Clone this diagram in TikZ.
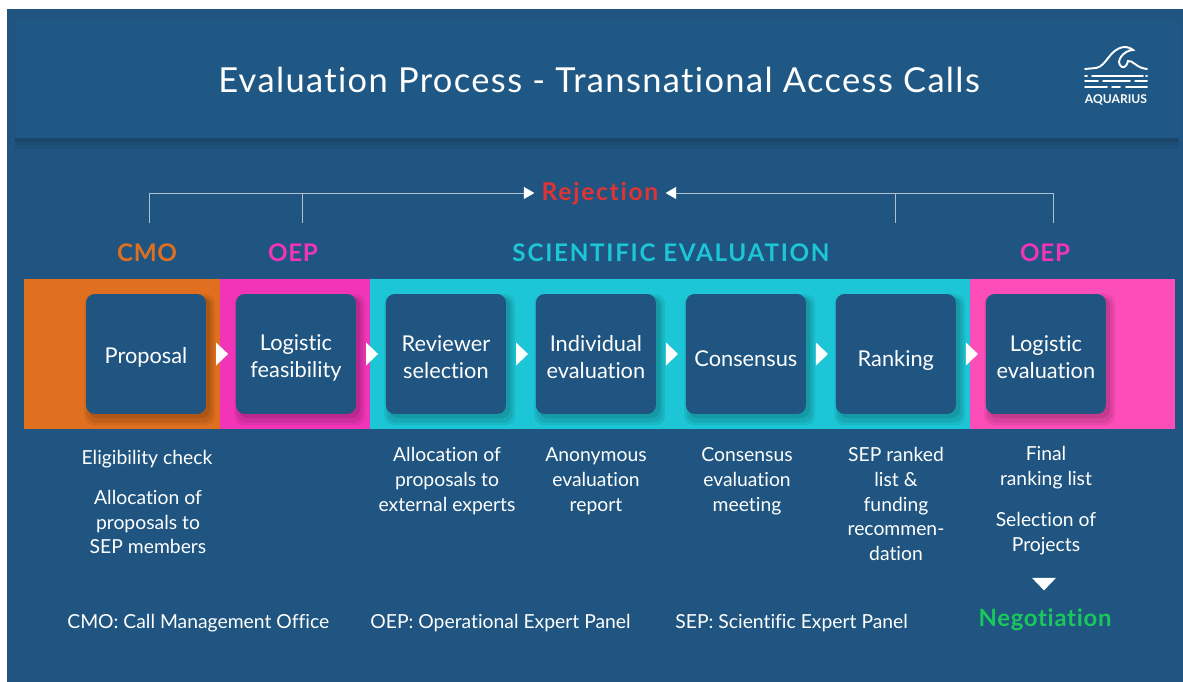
\documentclass[tikz,border=0pt]{standalone}
\usepackage{fontspec}
\usepackage{tikz}
\usetikzlibrary{positioning, shadows, shapes.geometric, calc}
\setmainfont{Lato}[Ligatures=NoCommon]
\newfontfamily\spacedfont[LetterSpace=4,Ligatures=NoCommon]{Lato}
\newfontfamily\headfont[LetterSpace=3,Ligatures=NoCommon]{Lato}
\newfontfamily\widefont[LetterSpace=7,Ligatures=NoCommon]{Lato}
\newcommand{\boxtext}[2]{\raisebox{-#1pt}[\height][\depth]{\begin{tabular}{@{}c@{}}#2\end{tabular}}}
\definecolor{slideblue}{HTML}{1F5580}
\definecolor{panelblue}{HTML}{1F5884}
\definecolor{cmoorange}{HTML}{E0701F}
\definecolor{oeppink}{HTML}{F235B8}
\definecolor{oeplight}{HTML}{FD4DB8}
\definecolor{scicyan}{HTML}{1CC6D6}
\definecolor{rejectred}{HTML}{E03434}
\definecolor{negogreen}{HTML}{18C85C}
\definecolor{linegrey}{HTML}{AFC1CF}
\tikzset{
    softshadow/.style={
        drop shadow={shadow xshift=2pt, shadow yshift=-3pt, fill=black, opacity=.07, shadow scale=1.09},
        drop shadow={shadow xshift=2pt, shadow yshift=-3pt, fill=black, opacity=.08, shadow scale=1.05},
        drop shadow={shadow xshift=2pt, shadow yshift=-2pt, fill=black, opacity=.09, shadow scale=1.01}
    },
    panelshadow/.style={
        drop shadow={shadow xshift=0pt, shadow yshift=-6pt, fill=black, opacity=.04},
        drop shadow={shadow xshift=0pt, shadow yshift=-4pt, fill=black, opacity=.05},
        drop shadow={shadow xshift=0pt, shadow yshift=-2pt, fill=black, opacity=.07}
    },
    stepbox/.style={draw=none, fill=slideblue, rounded corners=5pt, minimum size=2.4cm, inner sep=0pt, outer sep=0pt,
        text=white, align=center, font=\fontsize{12.4}{15.3}\selectfont, softshadow},
    band/.style={draw=none, inner sep=0pt, outer sep=0pt, minimum height=3cm, anchor=north west},
    note/.style={text=white, align=center, inner sep=0pt, font=\fontsize{11}{14.2}\selectfont},
    heading/.style={inner sep=0pt},
    tip/.style={isosceles triangle, isosceles triangle stretches, fill=white, draw=none,
        inner sep=0pt, outer sep=0pt, minimum height=0.24cm, minimum width=0.46cm},
    bracket/.style={draw=linegrey, line width=0.55pt},
    wave/.style={draw=white, line width=1.1pt, line cap=round},
    x=0.02cm, y=-0.02cm
}
\begin{document}
\begin{tikzpicture}
    \useasboundingbox (0,0) rectangle (1183,682);
    \fill[white] (0,0) rectangle (1183,682);
    \fill[slideblue] (7,9) rectangle (1183,682);
    \node[fill=panelblue, draw=none, minimum width=23.28cm, minimum height=2.36cm, inner sep=0pt, anchor=north west,
        panelshadow] (panel) at (15,20) {};

    \node[text=white, inner sep=0pt] (title) at (599,80) {\fontsize{19.6}{24}\spacedfont Evaluation Process - Transnational Access Calls};

    \draw[wave] (1085,69) -- (1096,68) .. controls (1107,66) and (1109,49) .. (1124,47)
        .. controls (1127,47) and (1131,48) .. (1133,50) .. controls (1124,50) and (1114,62) .. (1122,67)
        .. controls (1124,68) and (1127,66) .. (1128,61) .. controls (1133,60) and (1136,68) .. (1147,69);
    \draw[wave] (1085,76) -- (1087,76) (1092,76) -- (1143,76) (1146,76) -- (1147,76);
    \draw[wave] (1085,81) -- (1098,81) (1103,81) -- (1130,81) (1135,81) -- (1147,81);
    \draw[wave] (1085,87) -- (1107,87) (1112,87) -- (1120,87) (1126,87) -- (1147,87);
    \node[text=white, inner sep=0pt, font=\fontsize{6.9}{8}\bfseries\selectfont] (logotext) at (1116,100) {AQUARIUS};

    \node[band, fill=cmoorange, minimum width=3.92cm] (cmoband) at (24,279) {};
    \node[band, fill=oeppink, minimum width=3cm, right=0pt of cmoband] (oepband) {};
    \node[band, fill=scicyan, minimum width=12cm, right=0pt of oepband] (sciband) {};
    \node[band, fill=oeplight, minimum width=4.1cm, right=0pt of sciband] (lastband) {};

    \node[stepbox] (proposal) at (146,354) {\boxtext{2.3}{Proposal}};
    \node[stepbox, right=0.6cm of proposal] (feasibility) {\boxtext{2.4}{Logistic\\feasibility}};
    \node[stepbox, right=0.6cm of feasibility] (reviewer) {\boxtext{3.4}{Reviewer\\selection}};
    \node[stepbox, right=0.6cm of reviewer] (individual) {\boxtext{3.4}{Individual\\evaluation}};
    \node[stepbox, right=0.6cm of individual] (consensus) {\boxtext{4}{Consensus}};
    \node[stepbox, right=0.6cm of consensus] (ranking) {\boxtext{4}{Ranking}};
    \node[stepbox, right=0.6cm of ranking] (logeval) {\boxtext{3.4}{Logistic\\evaluation}};

    \foreach \a/\b in {proposal/feasibility, feasibility/reviewer, reviewer/individual,
        individual/consensus, consensus/ranking, ranking/logeval} {
        \node[tip] (tip-\a) at ($(\a.east)!0.5!(\b.west)$) {};
    }

    \node[heading, text=cmoorange, font=\fontsize{13.8}{16}\headfont\bfseries] (cmo) at (147,253) {CMO};
    \node[heading, text=oeppink, font=\fontsize{13.8}{16}\headfont\bfseries] (oepleft) at (293,253) {OEP};
    \node[heading, text=scicyan, font=\fontsize{13.8}{16}\widefont\bfseries] (scientific) at (671,253) {SCIENTIFIC EVALUATION};
    \node[heading, text=oeppink, font=\fontsize{13.8}{16}\headfont\bfseries] (oepright) at (1045,253) {OEP};

    \node[heading, text=rejectred, font=\fontsize{14}{16}\widefont\bfseries] (rejection) at (600,194) {Rejection};
    \coordinate (cornerleft) at (149,193);
    \coordinate (cornerright) at (1053,193);
    \coordinate (footleft) at (149,223);
    \coordinate (footoep) at (302,223);
    \coordinate (footranking) at (895,223);
    \coordinate (footright) at (1053,223);
    \coordinate (endleft) at ([xshift=-6pt]cornerleft -| rejection.west);
    \coordinate (endright) at ([xshift=6pt]cornerright -| rejection.east);
    \draw[bracket] (footleft) -- (cornerleft) -- (endleft);
    \draw[bracket] (footright) -- (cornerright) -- (endright);
    \draw[bracket] (footoep) -- (footoep |- cornerleft);
    \draw[bracket] (footranking) -- (footranking |- cornerright);
    \fill[white] ([xshift=2pt]endleft) -- ++(-6pt,3.5pt) -- ++(0,-7pt) -- cycle;
    \fill[white] ([xshift=-2pt]endright) -- ++(6pt,3.5pt) -- ++(0,-7pt) -- cycle;

    \node[note] (eligibility) at (147,459) {Eligibility check};
    \node[note] (allocsep) at (148,522) {Allocation of\\proposals to\\SEP members};
    \node[note] (allocext) at (447,481) {Allocation of\\proposals to\\external experts};
    \node[note] (report) at (596,481) {Anonymous\\evaluation\\report};
    \node[note] (meeting) at (747,481) {Consensus\\evaluation\\meeting};
    \node[note] (sepranked) at (896,504) {SEP ranked\\list \&\\funding\\recommen-\\dation};
    \node[note] (finallist) at (1046,468) {Final\\ranking list};
    \node[note] (projects) at (1046,534) {Selection of\\Projects};
    \node[tip, shape border rotate=-90, minimum height=0.25cm, minimum width=0.48cm] (downtip) at (1044,583) {};
    \node[heading, text=negogreen, font=\fontsize{13.6}{16}\headfont\bfseries] (negotiation) at (1045,620) {Negotiation};

    \node[note, anchor=west] (legcmo) at (67,623) {CMO: Call Management Office};
    \node[note, anchor=west] (legoep) at (370,623) {OEP: Operational Expert Panel};
    \node[note, anchor=west] (legsep) at (675,623) {SEP: Scientific Expert Panel};
\end{tikzpicture}
\end{document}
